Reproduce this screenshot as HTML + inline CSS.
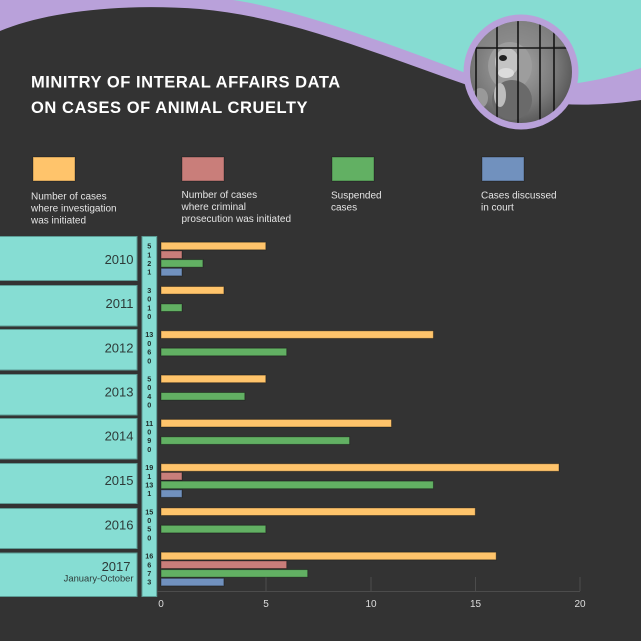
<!DOCTYPE html>
<html><head><meta charset="utf-8"><style>
html,body{margin:0;padding:0;background:#333333;}
svg{display:block;}
text{font-family:"Liberation Sans",Arial,sans-serif;}
</style></head><body>
<svg width="641" height="641" viewBox="0 0 641 641" xmlns="http://www.w3.org/2000/svg">
<defs>
<radialGradient id="ph" cx="0.45" cy="0.45" r="0.6">
<stop offset="0" stop-color="#a8a8a8"/>
<stop offset="0.6" stop-color="#7a7a7a"/>
<stop offset="1" stop-color="#4a4a4a"/>
</radialGradient>
<clipPath id="cc"><circle cx="521" cy="72" r="51"/></clipPath>
</defs>
<!-- header -->
<rect x="0" y="0" width="641" height="641" fill="#b9a1da"/>
<path d="M233,0 C290,8 380,40 463,72 C520,93 580,88 641,68 V0 Z" fill="#86dcd2"/>
<path d="M0,31 C45,12 120,3 200,9 C290,17 380,55 470,86 C520,103 575,110 641,100 V641 H0 Z" fill="#333333"/>
<!-- photo -->
<circle cx="521" cy="72" r="57.5" fill="#b9a1da"/>
<g clip-path="url(#cc)">
<rect x="465" y="16" width="112" height="112" fill="url(#ph)"/>
<rect x="465" y="16" width="112" height="30" fill="#8a8a8a" opacity="0.6"/>
<ellipse cx="510" cy="66" rx="22" ry="24" fill="#9d9d9d"/>
<ellipse cx="507" cy="62" rx="12" ry="14" fill="#c4c4c4"/>
<ellipse cx="506" cy="73" rx="8" ry="5" fill="#dcdcdc"/>
<ellipse cx="503" cy="58" rx="4" ry="3" fill="#222"/>
<ellipse cx="512" cy="100" rx="20" ry="20" fill="#6a6a6a"/>
<ellipse cx="500" cy="95" rx="6" ry="12" fill="#bdbdbd"/>
<ellipse cx="480" cy="98" rx="8" ry="10" fill="#999"/>
<g stroke="#151515" stroke-width="1.6">
<line x1="476" y1="10" x2="476" y2="130"/>
<line x1="497" y1="10" x2="497" y2="130"/>
<line x1="518" y1="10" x2="518" y2="130"/>
<line x1="540" y1="10" x2="540" y2="130"/>
<line x1="554" y1="10" x2="554" y2="130"/>
<line x1="465" y1="48" x2="577" y2="48"/>
</g>
</g>
<!-- title -->
<g fill="#ffffff" font-weight="bold" font-size="16.5" letter-spacing="0.55">
<text x="31" y="87.5">MINITRY OF INTERAL AFFAIRS DATA</text>
<text x="31" y="113">ON CASES OF ANIMAL CRUELTY</text>
</g>
<!-- legend -->
<g stroke="rgba(0,0,0,0.3)" stroke-width="1">
<rect x="33" y="157" width="42" height="24" fill="#ffc46b"/>
<rect x="182" y="157" width="42" height="24" fill="#c97e7a"/>
<rect x="332" y="157" width="42" height="24" fill="#62b063"/>
<rect x="482" y="157" width="42" height="24" fill="#7191be"/>
</g>
<g fill="#e4e4e4" font-size="10">
<text x="31" y="199.3">Number of cases</text>
<text x="31" y="211.3">where investigation</text>
<text x="31" y="223.3">was initiated</text>
<text x="181.5" y="198">Number of cases</text>
<text x="181.5" y="210">where criminal</text>
<text x="181.5" y="222">prosecution was initiated</text>
<text x="331" y="198.5">Suspended</text>
<text x="331" y="210.5">cases</text>
<text x="481" y="198.5">Cases discussed</text>
<text x="481" y="210.5">in court</text>
</g>
<!-- year boxes -->
<g fill="#86ddd3" stroke="#5c9c95" stroke-width="1">
<rect x="-2" y="236.5" width="139" height="44"/>
<rect x="-2" y="285.5" width="139" height="40.5"/>
<rect x="-2" y="329.5" width="139" height="40.5"/>
<rect x="-2" y="374.5" width="139" height="40.5"/>
<rect x="-2" y="418.5" width="139" height="40.5"/>
<rect x="-2" y="463.5" width="139" height="40"/>
<rect x="-2" y="508.5" width="139" height="40"/>
<rect x="-2" y="553" width="139" height="43.5"/>
<rect x="142" y="236.5" width="14.7" height="360"/>
</g>
<g fill="#2d3a38" font-size="13" text-anchor="end">
<text x="133.5" y="264">2010</text>
<text x="133.5" y="308">2011</text>
<text x="133.5" y="352.3">2012</text>
<text x="133.5" y="396.3">2013</text>
<text x="133.5" y="440.6">2014</text>
<text x="133.5" y="485">2015</text>
<text x="133.5" y="529.3">2016</text>
<text x="130.5" y="571">2017</text>
<text x="133.5" y="581.5" font-size="9.4">January-October</text>
</g>
<!-- axis -->
<g stroke="#4c4c4c" stroke-width="1">
<line x1="157" y1="591.5" x2="580" y2="591.5"/>
<line x1="266" y1="577" x2="266" y2="591"/>
<line x1="371" y1="577" x2="371" y2="591"/>
<line x1="475.5" y1="577" x2="475.5" y2="591"/>
<line x1="580" y1="577" x2="580" y2="591"/>
</g>
<g fill="#dddddd" font-size="10" text-anchor="middle">
<text x="161" y="607">0</text>
<text x="266" y="607">5</text>
<text x="371" y="607">10</text>
<text x="475.5" y="607">15</text>
<text x="580" y="607">20</text>
</g>
<!-- bars -->
<g stroke="rgba(0,0,0,0.35)" stroke-width="1">
<!-- 2010 c=246 -->
<rect x="161" y="242.2" width="104.8" height="7.6" fill="#ffc46b"/>
<rect x="161" y="250.9" width="21" height="7.6" fill="#c97e7a"/>
<rect x="161" y="259.6" width="41.9" height="7.6" fill="#62b063"/>
<rect x="161" y="268.3" width="21" height="7.6" fill="#7191be"/>
<!-- 2011 c=290.3 -->
<rect x="161" y="286.5" width="62.9" height="7.6" fill="#ffc46b"/>
<rect x="161" y="303.9" width="21" height="7.6" fill="#62b063"/>
<!-- 2012 c=334.6 -->
<rect x="161" y="330.8" width="272.4" height="7.6" fill="#ffc46b"/>
<rect x="161" y="348.2" width="125.7" height="7.6" fill="#62b063"/>
<!-- 2013 c=378.9 -->
<rect x="161" y="375.1" width="104.8" height="7.6" fill="#ffc46b"/>
<rect x="161" y="392.5" width="83.8" height="7.6" fill="#62b063"/>
<!-- 2014 c=423.2 -->
<rect x="161" y="419.4" width="230.5" height="7.6" fill="#ffc46b"/>
<rect x="161" y="436.8" width="188.6" height="7.6" fill="#62b063"/>
<!-- 2015 c=467.5 -->
<rect x="161" y="463.7" width="398" height="7.6" fill="#ffc46b"/>
<rect x="161" y="472.4" width="21" height="7.6" fill="#c97e7a"/>
<rect x="161" y="481.1" width="272.4" height="7.6" fill="#62b063"/>
<rect x="161" y="489.8" width="21" height="7.6" fill="#7191be"/>
<!-- 2016 c=511.7 -->
<rect x="161" y="507.9" width="314.3" height="7.6" fill="#ffc46b"/>
<rect x="161" y="525.3" width="104.8" height="7.6" fill="#62b063"/>
<!-- 2017 c=556 -->
<rect x="161" y="552.2" width="335.2" height="7.6" fill="#ffc46b"/>
<rect x="161" y="560.9" width="125.7" height="7.6" fill="#c97e7a"/>
<rect x="161" y="569.6" width="146.7" height="7.6" fill="#62b063"/>
<rect x="161" y="578.3" width="62.9" height="7.6" fill="#7191be"/>
</g>
<!-- values -->
<g fill="#1e2a28" font-size="7.2" font-weight="bold" text-anchor="middle">
<text x="149.3" y="248.6">5</text><text x="149.3" y="257.3">1</text><text x="149.3" y="266">2</text><text x="149.3" y="274.7">1</text>
<text x="149.3" y="292.9">3</text><text x="149.3" y="301.6">0</text><text x="149.3" y="310.3">1</text><text x="149.3" y="319">0</text>
<text x="149.3" y="337.2">13</text><text x="149.3" y="345.9">0</text><text x="149.3" y="354.6">6</text><text x="149.3" y="363.3">0</text>
<text x="149.3" y="381.5">5</text><text x="149.3" y="390.2">0</text><text x="149.3" y="398.9">4</text><text x="149.3" y="407.6">0</text>
<text x="149.3" y="425.8">11</text><text x="149.3" y="434.5">0</text><text x="149.3" y="443.2">9</text><text x="149.3" y="451.9">0</text>
<text x="149.3" y="470.1">19</text><text x="149.3" y="478.8">1</text><text x="149.3" y="487.5">13</text><text x="149.3" y="496.2">1</text>
<text x="149.3" y="514.3">15</text><text x="149.3" y="523">0</text><text x="149.3" y="531.7">5</text><text x="149.3" y="540.4">0</text>
<text x="149.3" y="558.6">16</text><text x="149.3" y="567.3">6</text><text x="149.3" y="576">7</text><text x="149.3" y="584.7">3</text>
</g>
</svg>
</body></html>
